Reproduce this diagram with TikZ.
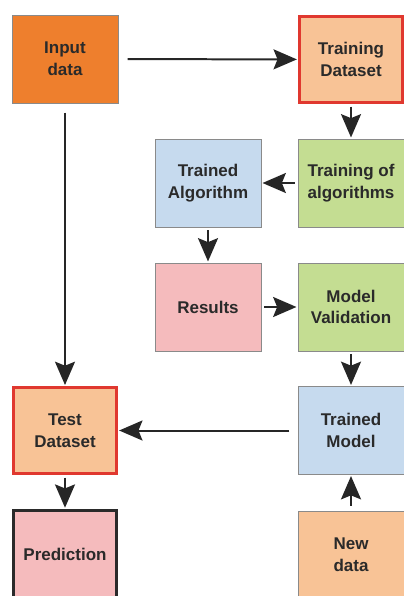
\documentclass[tikz,border=0pt]{standalone}
\usepackage{fontspec}
\setmainfont{Liberation Sans}
\usepackage{tikz}
\usetikzlibrary{arrows.meta, positioning}
\definecolor{inorange}{HTML}{EE7F2D}
\definecolor{peach}{HTML}{F8C396}
\definecolor{leafgreen}{HTML}{C4DD92}
\definecolor{paleblue}{HTML}{C6DAEE}
\definecolor{rosepink}{HTML}{F5BBBD}
\definecolor{boxred}{HTML}{E0382F}
\definecolor{boxgray}{HTML}{8A8A8A}
\definecolor{textgray}{HTML}{2A2A2A}

\tikzset{
  box/.style={draw=boxgray, line width=0.6pt, minimum width=3.18cm, minimum height=2.64cm,
    align=center, inner sep=2pt, text=textgray, font=\fontsize{14.5}{18.5}\selectfont\bfseries},
  redbox/.style={box, draw=boxred, line width=2.2pt, minimum width=3.1cm, minimum height=2.58cm},
  flow/.style={->, line width=1.7pt, draw=black!85, shorten <=2.5pt, shorten >=1pt}
}

\begin{document}
\begin{tikzpicture}[x=0.03cm, y=-0.03cm, >={Stealth[length=7mm, width=6mm, inset=1.2mm]}]
\useasboundingbox (0,0) rectangle (404,596);
% left column
\node[box, fill=inorange] (inp) at (65,59) {Input\\data};
\node[redbox, fill=peach] (tst) at (65,430.5) {Test\\Dataset};
\node[box, fill=rosepink, draw=textgray, line width=3pt, minimum width=3.1cm, minimum height=2.6cm] (pred) at (65,554) {Prediction};
% middle column
\node[box, fill=paleblue] (talg) at (208,183) {Trained\\Algorithm};
\node[box, fill=rosepink] (res) at (208,307) {Results};
% right column
\node[redbox, fill=peach] (tds) at (351,59.5) {Training\\Dataset};
\node[box, fill=leafgreen] (toa) at (351,183) {Training of\\algorithms};
\node[box, fill=leafgreen] (mval) at (351,307) {Model\\Validation};
\node[box, fill=paleblue] (tmod) at (351,430.5) {Trained\\Model};
\node[box, fill=peach] (newd) at (351,555) {New\\data};
% connectors
\draw[flow, shorten <=8pt] (inp) -- (tds);
\draw[flow, shorten <=8pt] (inp) -- (tst);
\draw[flow] (tds) -- (toa);
\draw[flow] (toa) -- (talg);
\draw[flow] (talg) -- (res);
\draw[flow] (res) -- (mval);
\draw[flow] (mval) -- (tmod);
\draw[flow, shorten <=7pt] (tmod) -- (tst);
\draw[flow] (tst) -- (pred);
\draw[flow, shorten <=4pt] (newd) -- (tmod);
\end{tikzpicture}
\end{document}
